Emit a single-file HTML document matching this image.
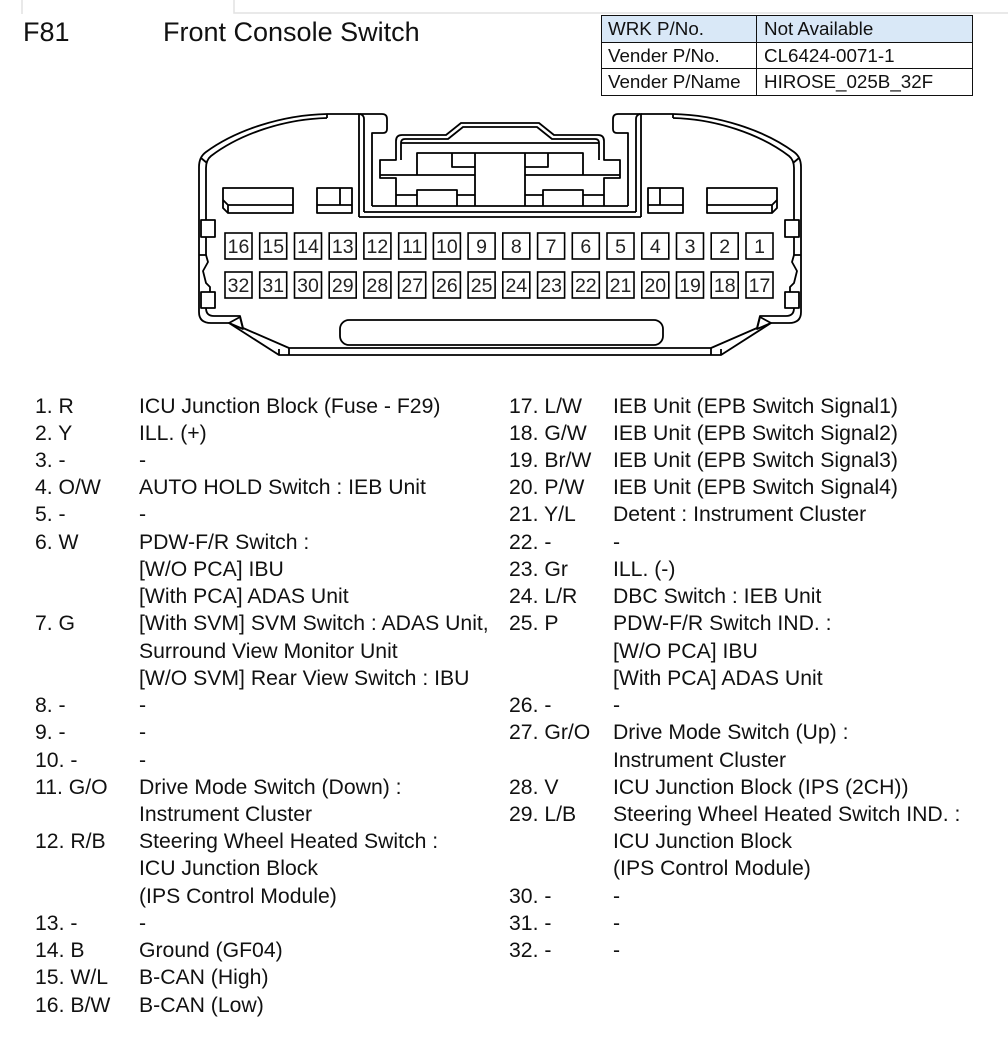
<!DOCTYPE html>
<html><head><meta charset="utf-8">
<style>
html,body{margin:0;padding:0;background:#fff;}
body{width:1008px;height:1051px;position:relative;overflow:hidden;font-family:"Liberation Sans",Arial,sans-serif;color:#111;}
.t{position:absolute;white-space:nowrap;}
.col{position:absolute;top:392.5px;font-size:21.2px;line-height:27.23px;white-space:nowrap;}
.r{display:flex;}
.n{width:104px;flex:none;}
table{position:absolute;left:601px;top:15px;border-collapse:collapse;font-size:18.8px;}
td{border:1.5px solid #111;height:25.5px;padding:0 0 0 6px;line-height:25.5px;white-space:nowrap;}
td.a{width:148px;}
td.b{width:208px;padding-left:7px;}
tr.h td{background:#d9e8f7;}
</style></head>
<body>
<svg width="1008" height="1051" style="position:absolute;left:0;top:0">
<g stroke="#e2e2e2" stroke-width="1.5" fill="none">
<path d="M22 0 V14 M234 0 V13 H1008"/>
</g>
<defs>
<g id="half" fill="none" stroke="#000" stroke-width="1.8" stroke-linejoin="round">
 <path d="M359 114 L327 114 C282 115 236 130 206 152 Q199 157 199 167 L199 312 Q199 323 211 323 L229 323 L279 355 L500 355"/>
 <path d="M327 118 C284 119 240 134 211 156 Q206 160 206 168 L206 220"/>
 <path d="M327 114 V118 M201 158 L207 163"/>
 <path d="M206 237 L206 255"/>
 <path d="M199 255 L206 255 L208 262 L203 271 L206 283 L210 287 L210 292"/>
 <rect x="201" y="220" width="14" height="17"/>
 <rect x="201" y="292" width="14" height="16"/>
 <path d="M206 308 Q206 316 214 316 L240 316 L243 328 L289 348 L500 348"/>
 <path d="M229 323 L240 317 L243 329 Z"/>
 <path d="M289 348 V355 M279 349 V355"/>
 <path d="M359 217 L359 114 L382 114 Q387 114 387 119 L387 129 Q387 133 383 133 L372 133 L372 206"/>
 <path d="M364 212 L364 119 Q364 115 360 114"/>
 <path d="M359 217 H500 M364 212 H500 M372 206 H500"/>
 <path d="M500 123 L461 123 L446 135 L402 135 Q396 135 396 141 L396 160 L380 160 L380 178 L396 178 L396 206"/>
 <path d="M500 127 L463 127 L448 139 L405 139 Q401 139 401 143 L401 160"/>
 <path d="M401 143 H500"/>
 <path d="M417 175 V153 H500"/>
 <path d="M452 153 V167 H475"/>
 <path d="M380 175 H475"/>
 <path d="M475 153 V206"/>
 <path d="M417 206 V190 H457 V206"/>
 <path d="M396 195 H417 M457 195 H475"/>
 <path d="M223 188 L293 188 L293 213 L228 213 L223 208 Z"/>
 <path d="M223 200 L228 205 L293 205 M228 205 V213"/>
 <path d="M317 188 H352 V213 H317 Z M340 188 V205 M317 205 H352"/>
</g>
</defs>
<use href="#half"/>
<use href="#half" transform="translate(1000 0) scale(-1 1)"/>
<rect x="340" y="320" width="323" height="25" rx="9" fill="none" stroke="#000" stroke-width="1.8"/>
<g fill="none" stroke="#000" stroke-width="1.6">
<rect x="225" y="233" width="27" height="26"/><rect x="259.7" y="233" width="27" height="26"/><rect x="294.5" y="233" width="27" height="26"/><rect x="329.2" y="233" width="27" height="26"/><rect x="363.9" y="233" width="27" height="26"/><rect x="398.7" y="233" width="27" height="26"/><rect x="433.4" y="233" width="27" height="26"/><rect x="468.1" y="233" width="27" height="26"/><rect x="502.8" y="233" width="27" height="26"/><rect x="537.6" y="233" width="27" height="26"/><rect x="572.3" y="233" width="27" height="26"/><rect x="607" y="233" width="27" height="26"/><rect x="641.8" y="233" width="27" height="26"/><rect x="676.5" y="233" width="27" height="26"/><rect x="711.2" y="233" width="27" height="26"/><rect x="746" y="233" width="27" height="26"/>
<rect x="225" y="272" width="27" height="26"/><rect x="259.7" y="272" width="27" height="26"/><rect x="294.5" y="272" width="27" height="26"/><rect x="329.2" y="272" width="27" height="26"/><rect x="363.9" y="272" width="27" height="26"/><rect x="398.7" y="272" width="27" height="26"/><rect x="433.4" y="272" width="27" height="26"/><rect x="468.1" y="272" width="27" height="26"/><rect x="502.8" y="272" width="27" height="26"/><rect x="537.6" y="272" width="27" height="26"/><rect x="572.3" y="272" width="27" height="26"/><rect x="607" y="272" width="27" height="26"/><rect x="641.8" y="272" width="27" height="26"/><rect x="676.5" y="272" width="27" height="26"/><rect x="711.2" y="272" width="27" height="26"/><rect x="746" y="272" width="27" height="26"/>
</g>
<g font-family="Liberation Sans, Arial, sans-serif" font-size="19.5" fill="#222" text-anchor="middle">
<text x="238.5" y="253">16</text><text x="273.2" y="253">15</text><text x="308" y="253">14</text><text x="342.7" y="253">13</text><text x="377.4" y="253">12</text><text x="412.2" y="253">11</text><text x="446.9" y="253">10</text><text x="481.6" y="253">9</text><text x="516.3" y="253">8</text><text x="551.1" y="253">7</text><text x="585.8" y="253">6</text><text x="620.5" y="253">5</text><text x="655.3" y="253">4</text><text x="690" y="253">3</text><text x="724.7" y="253">2</text><text x="759.5" y="253">1</text>
<text x="238.5" y="292">32</text><text x="273.2" y="292">31</text><text x="308" y="292">30</text><text x="342.7" y="292">29</text><text x="377.4" y="292">28</text><text x="412.2" y="292">27</text><text x="446.9" y="292">26</text><text x="481.6" y="292">25</text><text x="516.3" y="292">24</text><text x="551.1" y="292">23</text><text x="585.8" y="292">22</text><text x="620.5" y="292">21</text><text x="655.3" y="292">20</text><text x="690" y="292">19</text><text x="724.7" y="292">18</text><text x="759.5" y="292">17</text>
</g>
</svg>

<div class="t" style="left:23px;top:17px;font-size:27px;">F81</div>
<div class="t" style="left:163px;top:17px;font-size:27px;">Front Console Switch</div>

<table>
<tr class="h"><td class="a">WRK P/No.</td><td class="b">Not Available</td></tr>
<tr><td class="a">Vender P/No.</td><td class="b">CL6424-0071-1</td></tr>
<tr><td class="a">Vender P/Name</td><td class="b">HIROSE_025B_32F</td></tr>
</table>

<div class="col" style="left:35px;">
<div class="r"><div class="n">1. R</div><div>ICU Junction Block (Fuse - F29)</div></div>
<div class="r"><div class="n">2. Y</div><div>ILL. (+)</div></div>
<div class="r"><div class="n">3. -</div><div>-</div></div>
<div class="r"><div class="n">4. O/W</div><div>AUTO HOLD Switch : IEB Unit</div></div>
<div class="r"><div class="n">5. -</div><div>-</div></div>
<div class="r"><div class="n">6. W</div><div>PDW-F/R Switch :<br>[W/O PCA] IBU<br>[With PCA] ADAS Unit</div></div>
<div class="r"><div class="n">7. G</div><div>[With SVM] SVM Switch : ADAS Unit,<br>Surround View Monitor Unit<br>[W/O SVM] Rear View Switch : IBU</div></div>
<div class="r"><div class="n">8. -</div><div>-</div></div>
<div class="r"><div class="n">9. -</div><div>-</div></div>
<div class="r"><div class="n">10. -</div><div>-</div></div>
<div class="r"><div class="n">11. G/O</div><div>Drive Mode Switch (Down) :<br>Instrument Cluster</div></div>
<div class="r"><div class="n">12. R/B</div><div>Steering Wheel Heated Switch :<br>ICU Junction Block<br>(IPS Control Module)</div></div>
<div class="r"><div class="n">13. -</div><div>-</div></div>
<div class="r"><div class="n">14. B</div><div>Ground (GF04)</div></div>
<div class="r"><div class="n">15. W/L</div><div>B-CAN (High)</div></div>
<div class="r"><div class="n">16. B/W</div><div>B-CAN (Low)</div></div>
</div>

<div class="col" style="left:509px;">
<div class="r"><div class="n">17. L/W</div><div>IEB Unit (EPB Switch Signal1)</div></div>
<div class="r"><div class="n">18. G/W</div><div>IEB Unit (EPB Switch Signal2)</div></div>
<div class="r"><div class="n">19. Br/W</div><div>IEB Unit (EPB Switch Signal3)</div></div>
<div class="r"><div class="n">20. P/W</div><div>IEB Unit (EPB Switch Signal4)</div></div>
<div class="r"><div class="n">21. Y/L</div><div>Detent : Instrument Cluster</div></div>
<div class="r"><div class="n">22. -</div><div>-</div></div>
<div class="r"><div class="n">23. Gr</div><div>ILL. (-)</div></div>
<div class="r"><div class="n">24. L/R</div><div>DBC Switch : IEB Unit</div></div>
<div class="r"><div class="n">25. P</div><div>PDW-F/R Switch IND. :<br>[W/O PCA] IBU<br>[With PCA] ADAS Unit</div></div>
<div class="r"><div class="n">26. -</div><div>-</div></div>
<div class="r"><div class="n">27. Gr/O</div><div>Drive Mode Switch (Up) :<br>Instrument Cluster</div></div>
<div class="r"><div class="n">28. V</div><div>ICU Junction Block (IPS (2CH))</div></div>
<div class="r"><div class="n">29. L/B</div><div>Steering Wheel Heated Switch IND. :<br>ICU Junction Block<br>(IPS Control Module)</div></div>
<div class="r"><div class="n">30. -</div><div>-</div></div>
<div class="r"><div class="n">31. -</div><div>-</div></div>
<div class="r"><div class="n">32. -</div><div>-</div></div>
</div>
</body></html>
